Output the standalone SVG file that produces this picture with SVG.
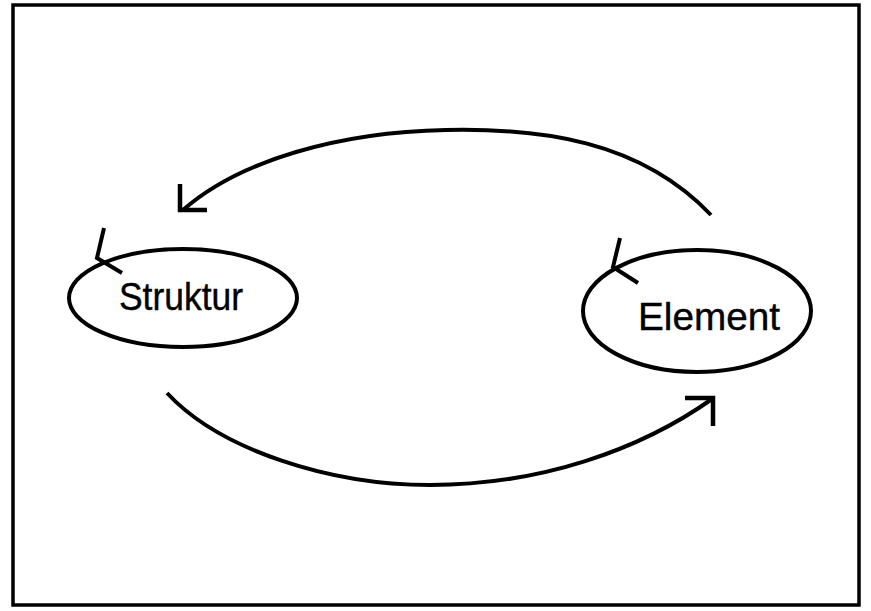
<svg xmlns="http://www.w3.org/2000/svg" width="871" height="611" viewBox="0 0 871 611">
  <style>
    .frame { fill: none; stroke: #000; stroke-width: 3.5; }
    .node { fill: #fff; stroke: #000; stroke-width: 4; }
    .tick { fill: none; stroke: #000; stroke-width: 4; stroke-linecap: butt; stroke-linejoin: miter; }
    .label { font-family: "Liberation Sans", Arial, sans-serif; font-size: 38px; fill: #000; stroke: #000; stroke-width: 0.4; }
    .conn { fill: none; stroke: #000; stroke-width: 4; }
    .head { fill: none; stroke: #000; stroke-width: 4.5; stroke-linejoin: miter; stroke-linecap: butt; }
  </style>
  <rect x="0" y="0" width="871" height="611" fill="#fff"/>
  <rect class="frame" x="13" y="5" width="846" height="600"/>

  <g id="connectors">
    <!-- Element -> Struktur (upper arc) -->
    <path class="conn" d="M711,215 C640,140 540,128 446,130 C340,132 240,160 183,210"/>
    <path class="head" d="M180,184 L180,210 L207,210"/>
    <!-- Struktur -> Element (lower arc) -->
    <path class="conn" d="M167,393 C220,450 330,485 430,485 C540,485 640,450 712,399"/>
    <path class="head" d="M685,398 L713,398 L713,426"/>
  </g>

  <g id="struktur">
    <ellipse class="node" cx="183" cy="298" rx="114" ry="49"/>
    <path class="tick" d="M104,228 L97,258 L122,273"/>
    <text class="label" x="181" y="310" text-anchor="middle" textLength="124" lengthAdjust="spacingAndGlyphs">Struktur</text>
  </g>

  <g id="element">
    <ellipse class="node" cx="697" cy="311" rx="114" ry="61"/>
    <path class="tick" d="M620,238 L613,267 L638,283"/>
    <text class="label" x="709" y="330" text-anchor="middle" textLength="142" lengthAdjust="spacingAndGlyphs">Element</text>
  </g>
</svg>
